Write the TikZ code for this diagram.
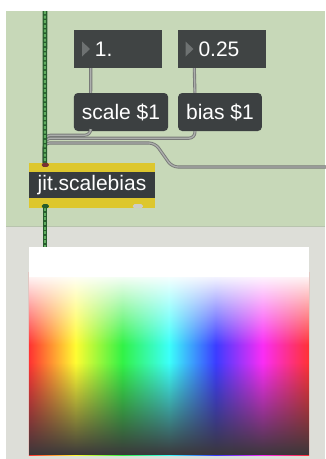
\documentclass[tikz,border=0pt]{standalone}
\usepackage{fontspec}
\setmainfont{Liberation Sans}
\usepackage{tikz}
\usetikzlibrary{fadings}
\definecolor{patchbg}{RGB}{199,216,184}
\definecolor{patchedge}{RGB}{184,196,174}
\definecolor{panelbg}{RGB}{221,222,216}
\definecolor{numgrey}{RGB}{64,68,68}
\definecolor{msggrey}{RGB}{60,64,65}
\definecolor{trigrey}{RGB}{110,114,114}
\definecolor{objyellow}{RGB}{221,199,45}
\definecolor{objdark}{RGB}{55,60,62}
\definecolor{cordedge}{RGB}{120,122,120}
\definecolor{cordfill}{RGB}{172,174,172}
\definecolor{jdark}{RGB}{38,92,44}
\definecolor{jlight}{RGB}{96,172,96}
\definecolor{inletred}{RGB}{120,50,50}
\definecolor{outletgrey}{RGB}{205,205,200}
\definecolor{pwdark}{RGB}{58,55,58}
\definecolor{hred}{RGB}{255,50,50}
\definecolor{hyellow}{RGB}{255,252,50}
\definecolor{hgreen}{RGB}{50,242,70}
\definecolor{hcyan}{RGB}{60,255,250}
\definecolor{hblue}{RGB}{60,60,255}
\definecolor{hmagenta}{RGB}{250,45,245}

% hue ramp across the middle 50bp, as \shade fits it
\pgfdeclarehorizontalshading{huebar}{100bp}{color(0bp)=(hred); color(25bp)=(hred);
  color(33.33bp)=(hyellow); color(41.67bp)=(hgreen); color(50bp)=(hcyan);
  color(58.33bp)=(hblue); color(66.67bp)=(hmagenta); color(75bp)=(hred); color(100bp)=(hred)}
\tikzfading[name=fadewhite, top color=transparent!0, bottom color=transparent!100]
\tikzfading[name=fadedark, top color=transparent!100, bottom color=transparent!0]

\begin{document}
\begin{tikzpicture}[
      x=1pt,y=-1pt,
      every node/.style={font=\fontsize{21}{24}\selectfont,text=white},
      numbox/.style={fill=numgrey,minimum height=38pt,inner xsep=21pt,
                     text width=46pt,align=left,
                     path picture={\fill[trigrey]
                       ([xshift=8pt,yshift=7.5pt]path picture bounding box.west) --
                       ([xshift=16pt]path picture bounding box.west) --
                       ([xshift=8pt,yshift=-7.5pt]path picture bounding box.west) -- cycle;}},
      msgbox/.style={fill=msggrey,rounded corners=4pt,minimum height=38pt,inner xsep=8pt},
      objbox/.style={fill=objyellow,minimum width=126pt,minimum height=45pt,inner sep=0pt,
                     path picture={\fill[objdark]
                       ([yshift=-9pt]path picture bounding box.north west) rectangle
                       ([yshift=10pt]path picture bounding box.south east);}},
      cord/.style={draw=cordedge,double=cordfill,double distance=1.3pt,
                   line width=0.9pt,rounded corners=6pt},
      jcord/.style={draw=jlight,line width=2pt,dash pattern=on 3pt off 1.6pt,
                    preaction={draw=jdark,line width=4.6pt,solid}}]

    \useasboundingbox (0,0) rectangle (325,459);
    \fill[white] (0,0) rectangle (325,459);
    \fill[patchbg] (6,11) rectangle (325,226);
    \fill[panelbg] (6,226) rectangle (325,459);
    \draw[patchedge,line width=1pt] (6,226) -- (325,226);

    \node[numbox] (num1) at (118,49) {1.};
    \node[numbox] (num2) at (221.5,49) {0.25};
    \node[msgbox] (scl) at (121,112) {scale \$1};
    \node[msgbox] (bias) at (220,112) {bias \$1};
    \node[objbox] (sbias) at (92,185.5) {jit.scalebias};
    \node[minimum width=280pt,minimum height=208pt,inner sep=0pt] (pwin) at (169,351) {};

    \coordinate (jsrc) at (45,11);
    \coordinate (rt) at (326,167);

    % message cords
    \draw[cord] ([xshift=17pt]num1.south west) -- ([xshift=17pt]scl.north west);
    \draw[cord] ([xshift=17pt]num2.south west) -- ([xshift=17pt]bias.north west);
    \draw[cord] (rt) -- (172,167) -- (155,143) -| ([xshift=15pt]sbias.north west);
    \draw[cord] ([xshift=17pt]bias.south west) -- ++(0,7) -| ([xshift=16pt]sbias.north west);
    \draw[cord] ([xshift=17pt]scl.south west) -- ++(0,4) -| ([xshift=16pt]sbias.north west);

    % matrix cords
    \draw[jcord] (jsrc) -- ([xshift=16pt]sbias.north west);
    \draw[jcord] ([xshift=16pt]sbias.south west) -- ([xshift=16pt]sbias.south west |- pwin.north);

    % inlet and outlets
    \fill[inletred,rounded corners=1.5pt] ([xshift=13pt]sbias.north west) rectangle ++(7,4);
    \fill[jdark,rounded corners=1.5pt] ([xshift=13pt,yshift=4pt]sbias.south west) rectangle ++(7,4);
    \fill[outletgrey,rounded corners=1.5pt] ([xshift=104pt,yshift=4pt]sbias.south west) rectangle ++(10,4);

    % pwindow: hue across, white on top, dark toward the bottom
    \shade[shading=huebar] ([yshift=-26pt]pwin.north west) rectangle (pwin.south east);
    \fill[white,path fading=fadewhite] ([yshift=-26pt]pwin.north west) rectangle ([yshift=-98pt]pwin.north east);
    \fill[pwdark,path fading=fadedark] ([yshift=-116pt]pwin.north west) rectangle (pwin.south east);
    \fill[white] (pwin.north west) rectangle ([yshift=-30pt]pwin.north east);
\end{tikzpicture}
\end{document}
